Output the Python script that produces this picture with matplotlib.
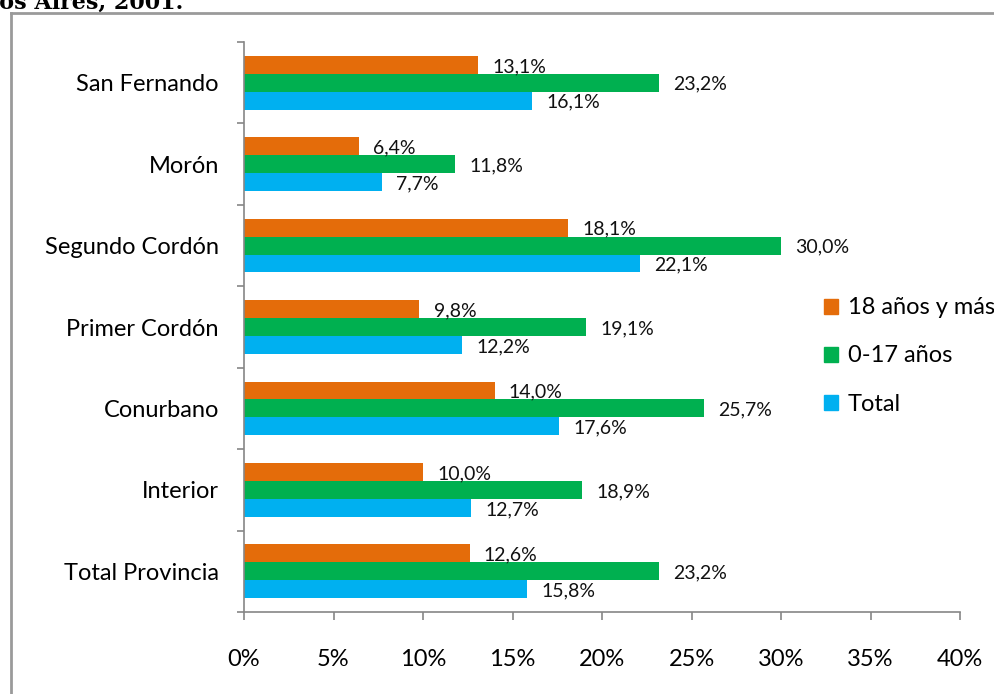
import matplotlib.pyplot as plt
import matplotlib.patches as mpatches
from matplotlib.lines import Line2D
import numpy as np

plt.rcParams['font.family'] = ['Lato', 'DejaVu Sans']

categories = ["San Fernando", "Morón", "Segundo Cordón", "Primer Cordón",
              "Conurbano", "Interior", "Total Provincia"]
adultos = [13.1, 6.4, 18.1, 9.8, 14.0, 10.0, 12.6]
menores = [23.2, 11.8, 30.0, 19.1, 25.7, 18.9, 23.2]
total = [16.1, 7.7, 22.1, 12.2, 17.6, 12.7, 15.8]
series_names = ["18 años y más", "0-17 años", "Total"]
colors = ["#E46C0A", "#00B050", "#00B0F0"]
xticks = [0, 5, 10, 15, 20, 25, 30, 35, 40]

fig = plt.figure(figsize=(9.94, 6.94), dpi=100)
ax = fig.add_axes([244/994, 1 - 612/694, (960 - 244)/994, (612 - 42)/694])

n = len(categories)
ypos = np.arange(n)[::-1]
h = 0.22
offsets = [h, 0, -h]
axis_gray = "#868686"

for vals, off, col, name in zip([adultos, menores, total], offsets, colors, series_names):
    ax.barh(ypos + off, vals, height=h, color=col, label=name)
    for y, v in zip(ypos + off, vals):
        ax.text(v + 0.8, y - 0.02, f"{v:.1f}%".replace(".", ","), va="center", ha="left",
                fontsize=14, color="#111111")

ax.set_xlim(0, 40)
ax.set_ylim(-0.5, n - 0.5)
ax.set_xticks(xticks)
ax.set_xticklabels([f"{t}%" for t in xticks], fontsize=17)
ax.set_yticks(np.arange(-0.5, n, 1.0))
ax.set_yticklabels([])
ax.set_yticks(ypos, minor=True)
ax.set_yticklabels(categories, minor=True, fontsize=17)
ax.tick_params(axis="y", which="major", length=5, color=axis_gray, width=1.2)
ax.tick_params(axis="y", which="minor", length=0, pad=18)
ax.tick_params(axis="x", length=6, color=axis_gray, width=1.2, pad=21)
for s in ["top", "right"]:
    ax.spines[s].set_visible(False)
for s in ["left", "bottom"]:
    ax.spines[s].set_color(axis_gray)
    ax.spines[s].set_linewidth(1.2)

handles = [mpatches.Patch(color=c) for c in colors]
fig.legend(handles, series_names, loc="center left", bbox_to_anchor=(824/994, 1 - 356/694),
           frameon=False, fontsize=17, handlelength=0.6, handleheight=0.6,
           handletextpad=0.42, labelspacing=1.15, borderaxespad=0, borderpad=0)

# outer chart frame (top and left edges visible)
fig.add_artist(Line2D([11/994, 11/994], [0, 1 - 13/694], transform=fig.transFigure,
                      color="#9a9a9a", lw=2))
fig.add_artist(Line2D([11/994, 993/994], [1 - 13/694, 1 - 13/694], transform=fig.transFigure,
                      color="#9a9a9a", lw=2))

# cut-off title at top
fig.text(183/994, 1 - 9/694, "Provincia de Buenos Aires, 2001.", ha="right", va="baseline",
         fontsize=16, fontweight="bold", family="DejaVu Serif")

fig.savefig("out.png", dpi=100)
